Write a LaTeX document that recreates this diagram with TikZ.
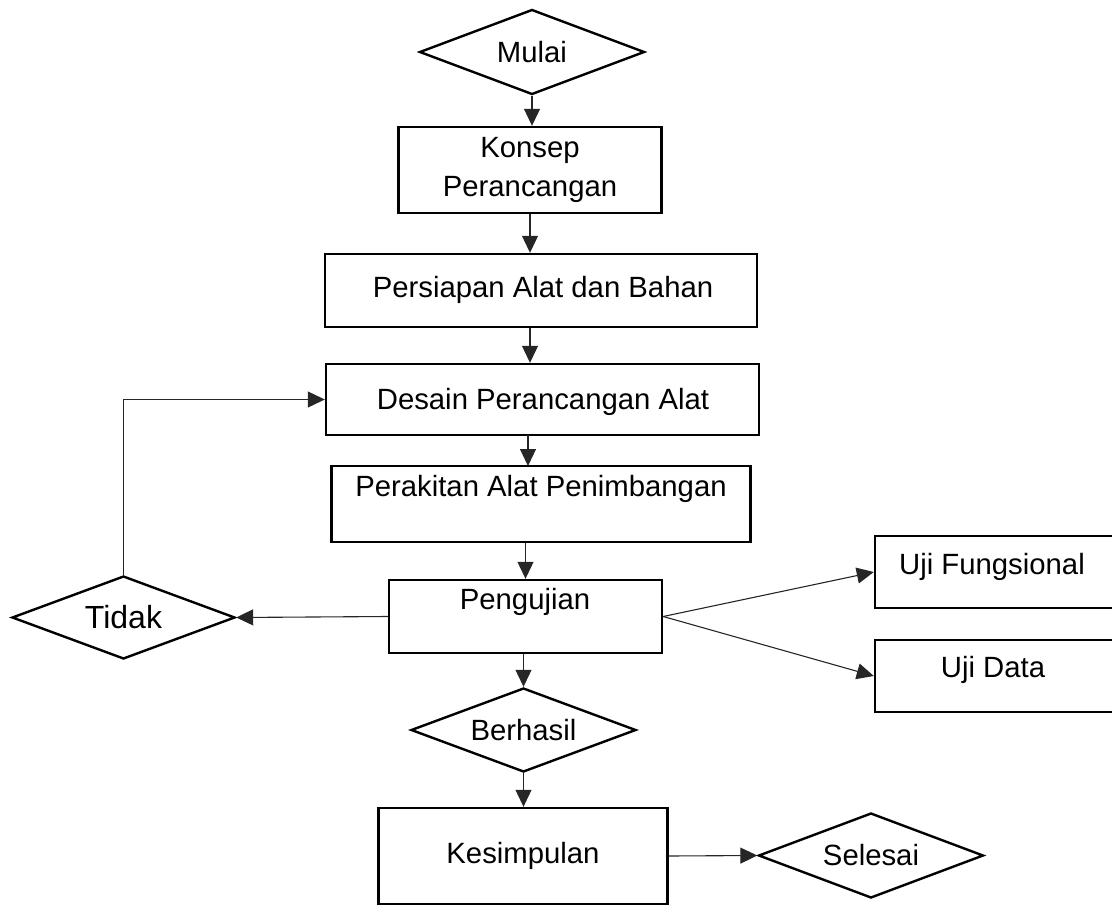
\documentclass[tikz,border=0pt]{standalone}
\usepackage{fontspec}
\setmainfont{Liberation Sans}
\usepackage{tikz}
\usetikzlibrary{shapes.geometric}
\usetikzlibrary{arrows.meta}

\begin{document}
\begin{tikzpicture}[x=1pt,y=-1pt,font=\fontsize{29.3}{39}\selectfont,
  box/.style={draw=black,line width=2.4pt,rectangle,inner sep=0pt},
  decision/.style={draw=black,line width=2.4pt,diamond,aspect=2.65,inner sep=0pt,minimum width=225pt},
  flow/.style={black!85,line width=1.1pt,-{Triangle[length=17pt,width=16pt]}}]
\useasboundingbox (0,0) rectangle (1112,905);
\clip (0,0) rectangle (1112,905);
\node[decision,minimum height=85pt] (mulai) at (532,52) {Mulai};
\node[box,minimum width=263pt,minimum height=86pt,align=center] (konsep) at (530,170) {Konsep\\Perancangan};
\node[box,minimum width=432pt,minimum height=73pt] (persiapan) at (541,290.5) {};
\node at (543,290) {Persiapan Alat dan Bahan};
\node[box,minimum width=433pt,minimum height=71pt] (desain) at (542.5,399.5) {};
\node at (543,402) {Desain Perancangan Alat};
\node[box,minimum width=419pt,minimum height=76pt] (perakitan) at (541,504) {};
\node at (541,489) {Perakitan Alat Penimbangan};
\node[box,minimum width=273pt,minimum height=73pt] (pengujian) at (525.5,616.5) {};
\node at (525,602) {Pengujian};
\node[decision,minimum width=223pt,minimum height=83pt,font=\fontsize{32}{36}\selectfont] (tidak) at (123.5,617.5) {Tidak};
\node[box,minimum width=260pt,minimum height=72pt] (ujifungsi) at (1005,572) {};
\node at (992,567) {Uji Fungsional};
\node[box,minimum width=260pt,minimum height=72pt] (ujidata) at (1005,676) {};
\node at (993,670) {Uji Data};
\node[decision,minimum height=84pt] (berhasil) at (523.5,730) {Berhasil};
\node[box,minimum width=289pt,minimum height=96pt] (kesimpulan) at (523,856) {Kesimpulan};
\node[decision,minimum height=85pt] (selesai) at (871,855.5) {Selesai};
\draw[flow] (mulai.south) -- (mulai.south |- konsep.north);
\draw[flow] (konsep.south) -- (konsep.south |- persiapan.north);
\draw[flow] (konsep.south |- persiapan.south) -- (konsep.south |- desain.north);
\draw[flow] (528,435) -- (528,466);
\draw[flow] (pengujian.north |- perakitan.south) -- (pengujian.north);
\draw[flow] (pengujian.west) -- (tidak.east);
\draw[flow] (tidak.north) |- (desain.west);
\draw[flow] (pengujian.east) -- (ujifungsi.west);
\draw[flow] (pengujian.east) -- (ujidata.west);
\draw[flow] (berhasil.north |- pengujian.south) -- (berhasil.north);
\draw[flow] (berhasil.south) -- (berhasil.south |- kesimpulan.north);
\draw[flow] (kesimpulan.east) -- (selesai.west);
\end{tikzpicture}
\end{document}
